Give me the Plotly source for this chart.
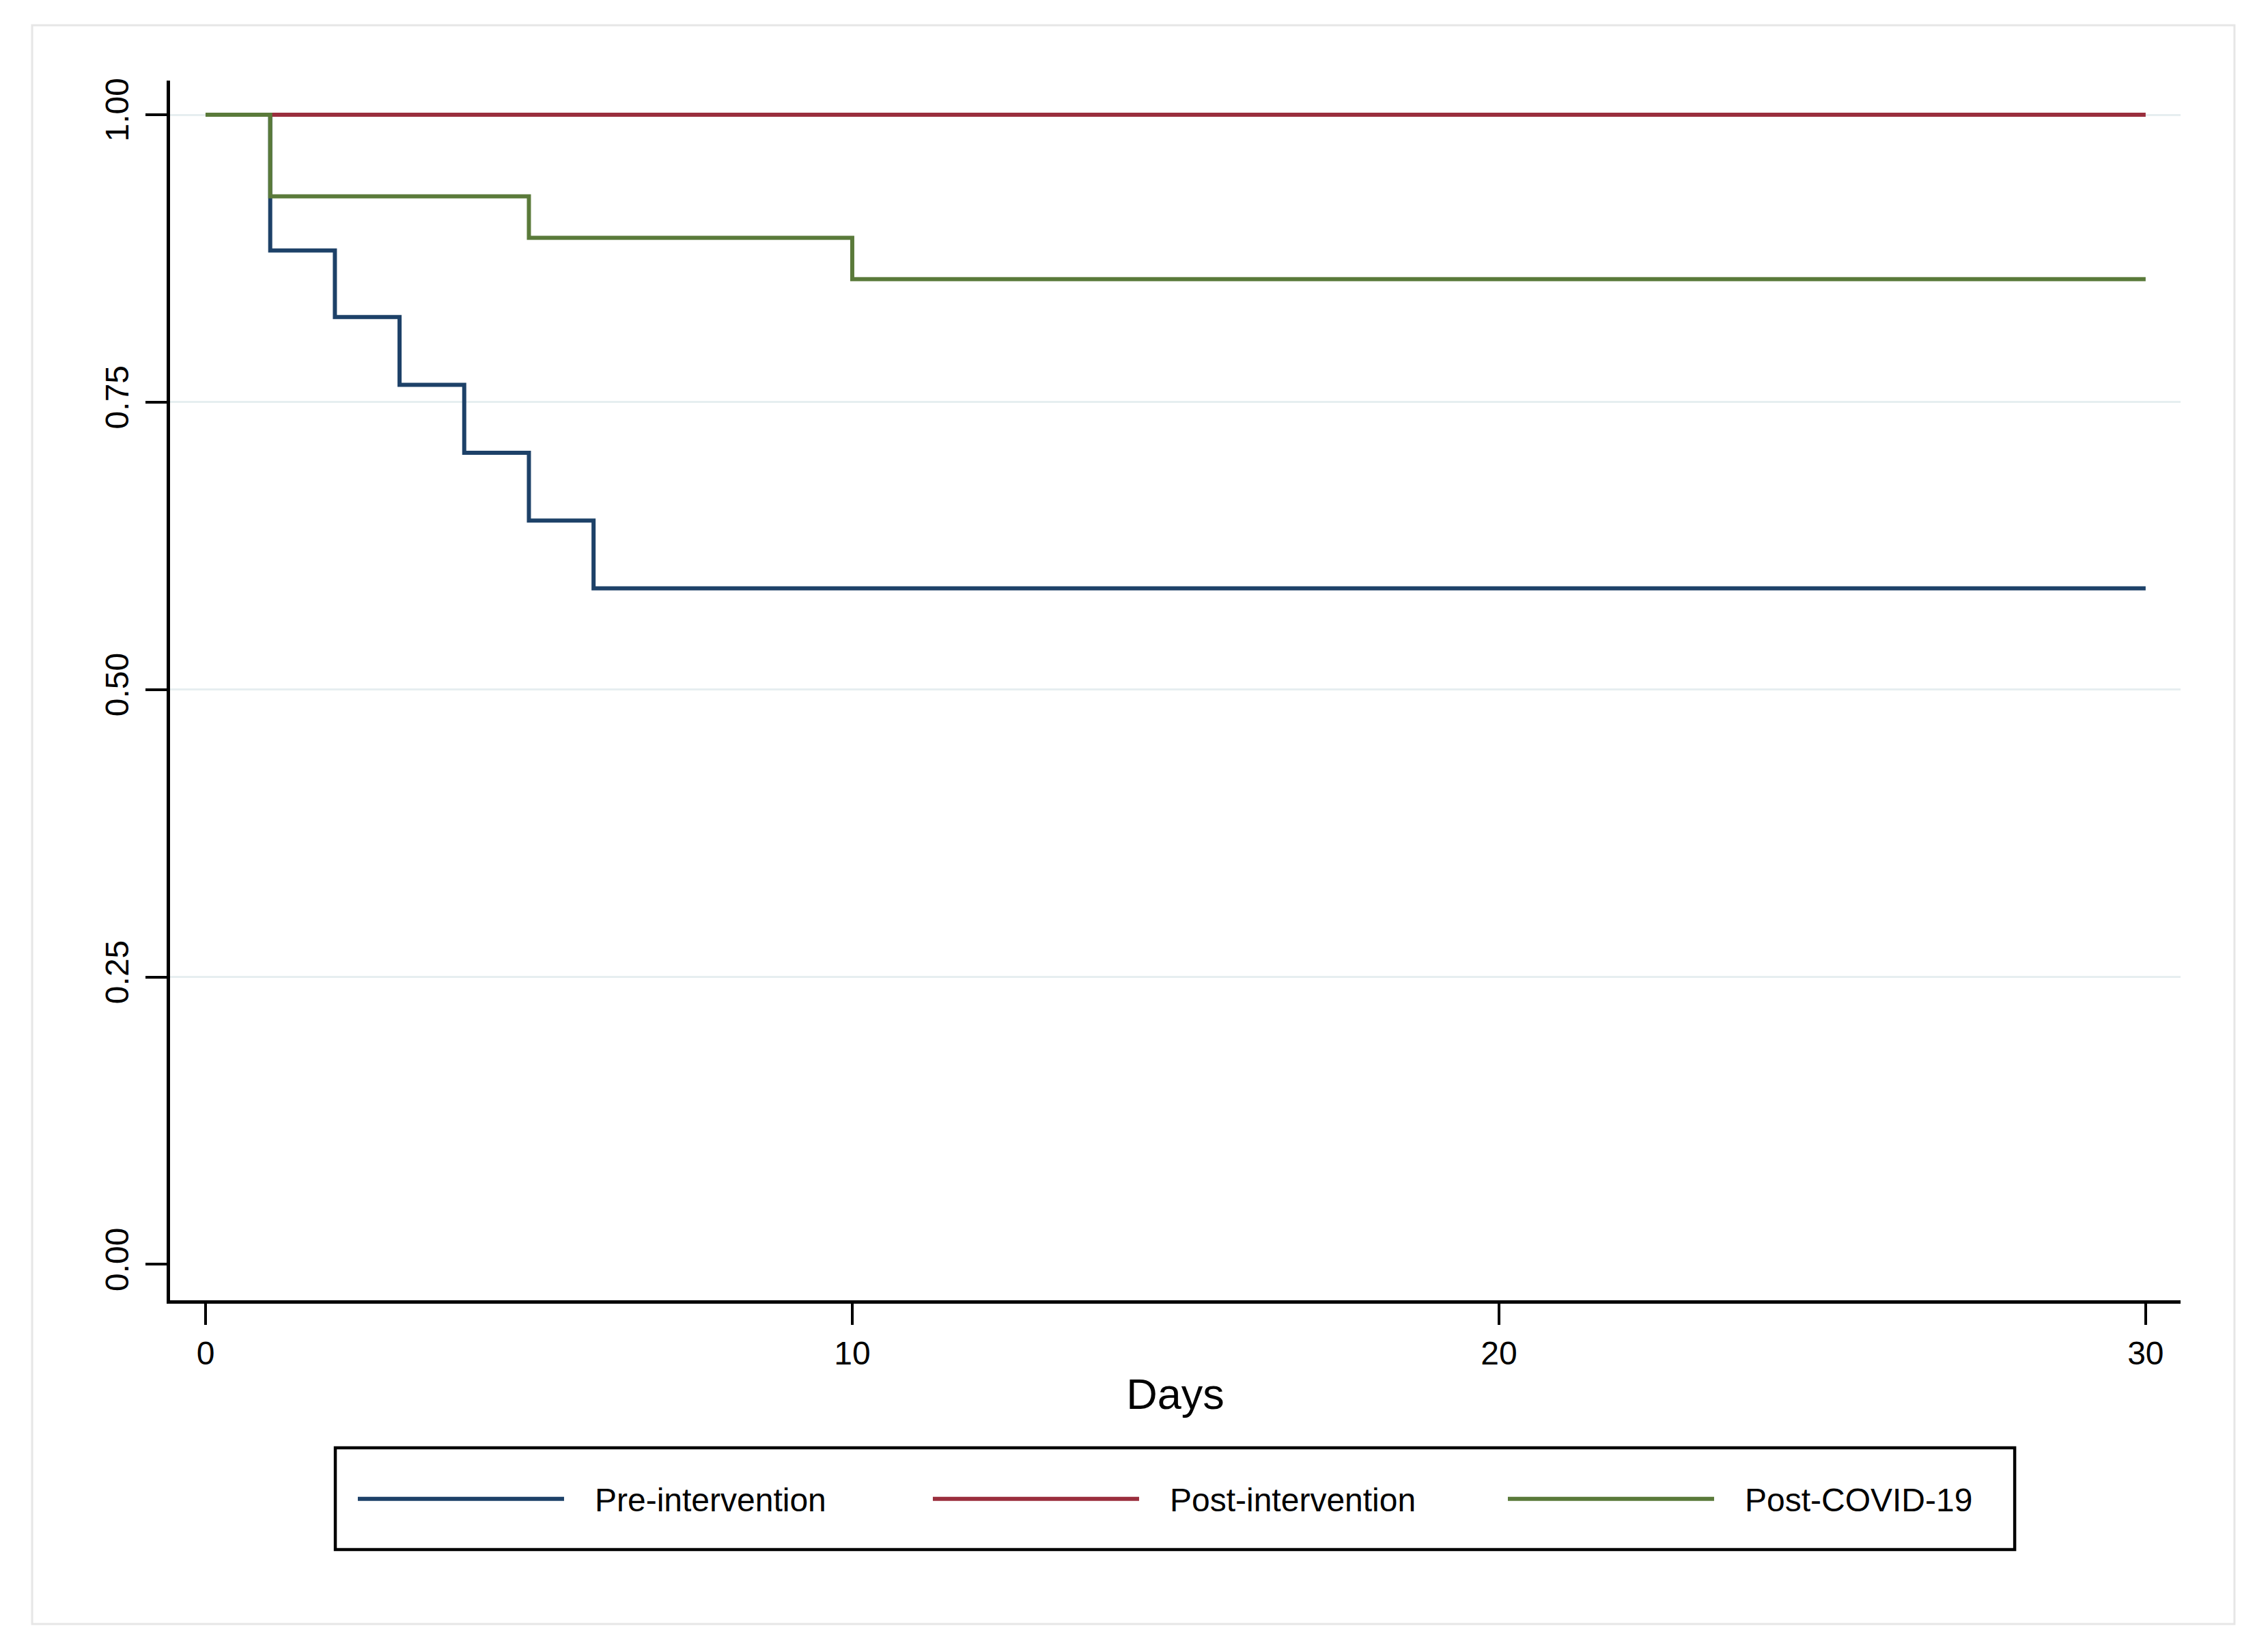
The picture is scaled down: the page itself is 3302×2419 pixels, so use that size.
import plotly.graph_objects as go

# Kaplan-Meier style estimates
days_pre = [0, 1, 2, 3, 4, 5, 6, 30]
surv_pre = [1.0, 0.882, 0.824, 0.765, 0.706, 0.647, 0.588, 0.588]

days_post = [0, 30]
surv_post = [1.0, 1.0]

days_covid = [0, 1, 5, 10, 30]
surv_covid = [1.0, 0.929, 0.893, 0.857, 0.857]

series_names = ["Pre-intervention", "Post-intervention", "Post-COVID-19"]
series_colors = ["#1d4168", "#9a2e3d", "#5a7a3a"]

x_ticks = [0, 10, 20, 30]
y_ticks = [0, 0.25, 0.5, 0.75, 1.0]
y_labels = ["0.00", "0.25", "0.50", "0.75", "1.00"]
y_grid = [0.25, 0.5, 0.75, 1.0]

FONT = "Liberation Sans, Arial, sans-serif"

fig = go.Figure()
for xs, ys, name, color in zip([days_pre, days_post, days_covid],
                               [surv_pre, surv_post, surv_covid],
                               series_names, series_colors):
    # leading spaces give the gap between legend key and label
    fig.add_trace(go.Scatter(x=xs, y=ys, mode="lines", name="   " + name,
                             line=dict(color=color, width=6, shape="hv")))

axis_font = dict(family=FONT, size=48, color="black")

fig.update_xaxes(
    range=[-0.549, 30.54], tickvals=x_ticks, ticks="outside", ticklen=31, tickwidth=4,
    tickcolor="black", showline=True, linecolor="black", linewidth=5, showgrid=False,
    zeroline=False, tickfont=axis_font,
    title=dict(text="Days", font=dict(family=FONT, size=63, color="black"), standoff=14),
)
fig.update_yaxes(
    range=[-0.0312, 1.0297], tickvals=y_ticks, ticktext=y_labels, tickangle=-90,
    ticks="outside", ticklen=31, tickwidth=4, tickcolor="black", showline=True,
    linecolor="black", linewidth=5, showgrid=False, zeroline=False, tickfont=axis_font,
    ticklabelstandoff=6,
    minor=dict(tickvals=y_grid, showgrid=True, gridcolor="#e6eef0", gridwidth=3, ticks=""),
)

fig.update_layout(
    width=3302, height=2419,
    margin=dict(l=241, r=117, t=110, b=523),
    paper_bgcolor="white", plot_bgcolor="white",
    showlegend=True,
    legend=dict(
        orientation="h", x=0.0917, xanchor="left", y=-0.1629, yanchor="middle",
        borderwidth=0, bgcolor="rgba(0,0,0,0)",
        font=dict(family=FONT, size=48, color="black"),
        itemwidth=302, entrywidth=525, entrywidthmode="pixels",
    ),
    shapes=[
        # outer frame
        dict(type="rect", xref="paper", yref="paper", x0=-0.0686, x1=1.0268,
             y0=-0.2654, y1=1.0454, line=dict(color="#e6e6e6", width=3), layer="below"),
        # legend box
        dict(type="rect", xref="paper", yref="paper", x0=0.0822, x1=0.9175,
             y0=-0.2044, y1=-0.1209, line=dict(color="black", width=4.5), layer="below"),
    ],
)

fig.write_html("out.html")
